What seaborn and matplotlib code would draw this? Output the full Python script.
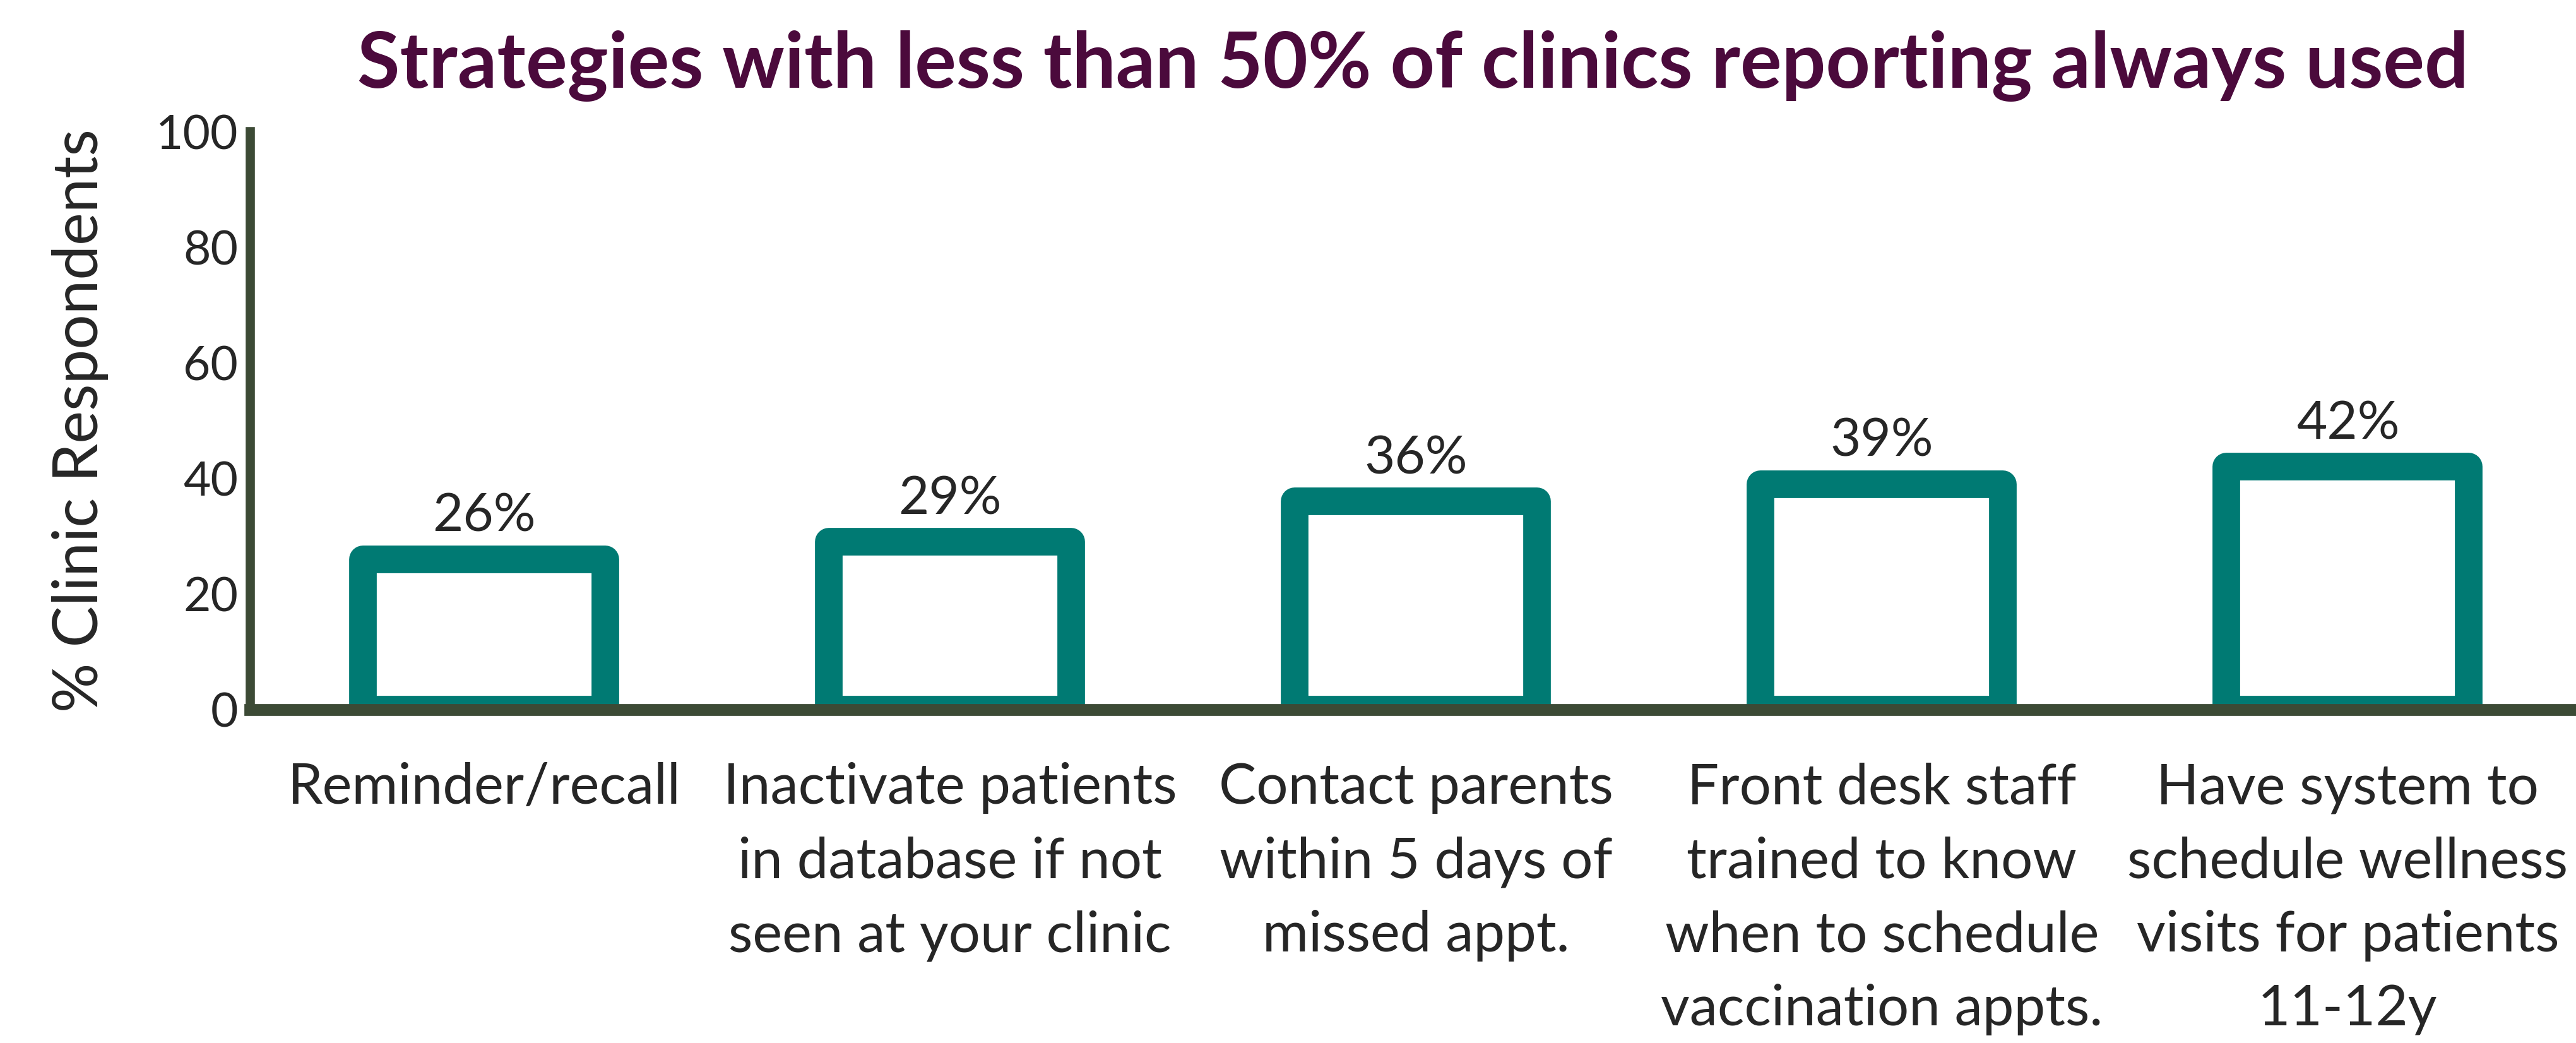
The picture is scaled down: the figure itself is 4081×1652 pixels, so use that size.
import matplotlib
matplotlib.use('Agg')
import matplotlib.pyplot as plt
import pandas as pd
import seaborn as sns

# Chart data
categories = [
    'Reminder/recall',
    'Inactivate patients\nin database if not\nseen at your clinic',
    'Contact parents\nwithin 5 days of\nmissed appt.',
    'Front desk staff\ntrained to know\nwhen to schedule\nvaccination appts.',
    'Have system to\nschedule wellness\nvisits for patients\n11-12y',
]
values = [26, 29, 36, 39, 42]
value_labels = ['26%', '29%', '36%', '39%', '42%']
y_ticks = [0, 20, 40, 60, 80, 100]

TEAL = '#007A73'
AXIS_GREEN = '#3C4A35'
TITLE_PURPLE = '#4B0A3C'

sns.set_style('white')
plt.rcParams['font.family'] = ['Lato', 'DejaVu Sans']

df = pd.DataFrame({'strategy': categories, 'pct': values})

fig = plt.figure(figsize=(4081 / 300, 1652 / 300), dpi=300)
ax = fig.add_axes([0.097, 0.3197, 0.903, 0.5543])

sns.barplot(data=df, x='strategy', y='pct', ax=ax, color='white',
            edgecolor=TEAL, linewidth=10.5, width=0.52, saturation=1)
for bar in ax.patches:
    bar.set_joinstyle('round')
    bar.set_facecolor('white')

ax.bar_label(ax.containers[0], labels=value_labels, padding=7, fontsize=20)

ax.set_ylim(0, 100)
ax.set_xlim(-0.503, 4.49)
ax.set_yticks(y_ticks)
ax.tick_params(axis='y', labelsize=18, length=0, pad=4.5)
ax.tick_params(axis='x', labelsize=21.3, length=0, pad=20)
for lbl in ax.get_xticklabels():
    lbl.set_linespacing(1.53)
ax.set_xlabel('')
ax.set_ylabel('% Clinic Respondents', fontsize=23.5, labelpad=18)

sns.despine(ax=ax, top=True, right=True)
ax.spines['left'].set_color(AXIS_GREEN)
ax.spines['left'].set_linewidth(3.5)
ax.spines['bottom'].set_color(AXIS_GREEN)
ax.spines['bottom'].set_linewidth(4.5)
ax.spines['bottom'].set_zorder(5)

fig.text(0.5485, 0.937, 'Strategies with less than 50% of clinics reporting always used',
         ha='center', va='center', fontsize=29.5, fontweight='bold', color=TITLE_PURPLE)

fig.savefig('out.png', dpi=300)
